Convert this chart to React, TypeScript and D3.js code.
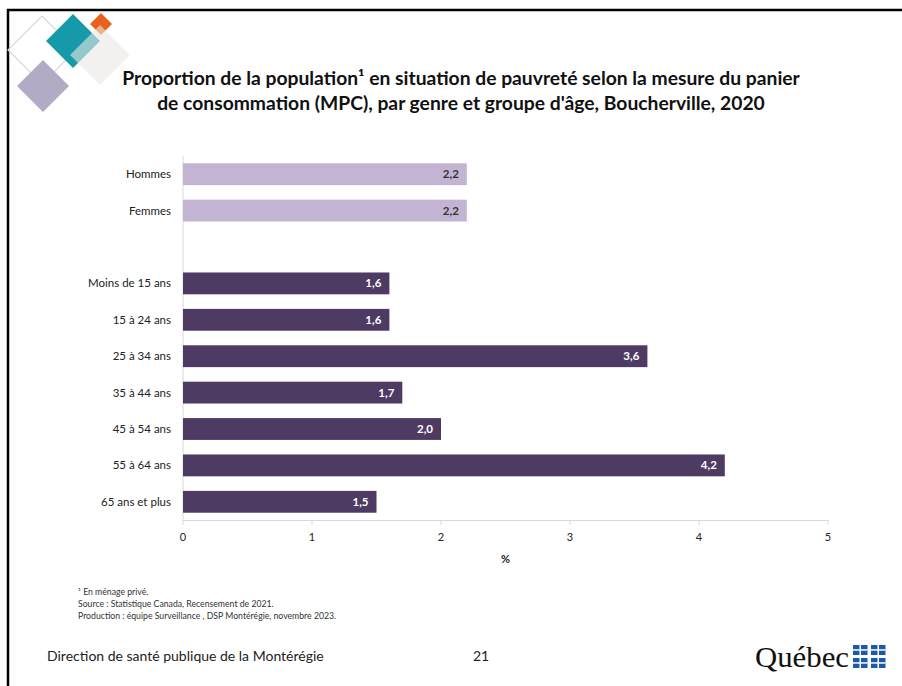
import React from "react";
import * as d3 from "d3";

const categories = ["Hommes", "Femmes", "", "Moins de 15 ans", "15 à 24 ans", "25 à 34 ans", "35 à 44 ans", "45 à 54 ans", "55 à 64 ans", "65 ans et plus"];
const values: (number | null)[] = [2.2, 2.2, null, 1.6, 1.6, 3.6, 1.7, 2.0, 4.2, 1.5];
const groups = ["genre", "genre", "", "age", "age", "age", "age", "age", "age", "age"];
const xTicks = [0, 1, 2, 3, 4, 5];
const titleLines = [
  "Proportion de la population¹ en situation de pauvreté selon la mesure du panier",
  "de consommation (MPC), par genre et groupe d'âge, Boucherville, 2020",
];
const notes = [
  "¹ En ménage privé.",
  "Source : Statistique Canada, Recensement de 2021.",
  "Production : équipe Surveillance , DSP Montérégie, novembre 2023.",
];

const FONT = "Lato, 'Open Sans', sans-serif";

export default function App() {
  const W = 902, H = 686;
  const x = d3.scaleLinear().domain([0, 5]).range([183, 828]);
  const y = d3.scaleBand<string>().domain(categories.map((c, i) => i + "")).range([156, 520]).paddingInner(0.4).paddingOuter(0.2);
  const fmt = (v: number) => d3.format(".1f")(v).replace(".", ",");
  const diamond = (cx: number, cy: number, r: number) => `M${cx},${cy - r}L${cx + r},${cy}L${cx},${cy + r}L${cx - r},${cy}Z`;
  const flag = (fx: number, fy: number) => (
    <g>
      <rect x={fx} y={fy} width={14.5} height={10} fill="#1c5aa6" />
      <rect x={fx + 6.5} y={fy} width={1.5} height={10} fill="#fff" />
      <rect x={fx} y={fy + 4.2} width={14.5} height={1.5} fill="#fff" />
    </g>
  );
  return (
    <svg width={W} height={H} style={{ position: "absolute", left: 0, top: 0, background: "#fff" }}>
      <rect x={0} y={0} width={W} height={H} fill="#fff" />
      <line x1={7} y1={10} x2={902} y2={10} stroke="#000" strokeWidth={2.5} />
      <line x1={8} y1={9} x2={8} y2={686} stroke="#000" strokeWidth={2.5} />
      {/* decorative diamonds */}
      <path d={diamond(42, 50, 34)} fill="none" stroke="#d6dbd6" strokeWidth={1.2} />
      <path d={diamond(43, 86, 26)} fill="#b3aac6" />
      <path d={diamond(73, 41, 27)} fill="#1699a8" />
      <path d={diamond(101, 24, 11)} fill="#e8621c" />
      <path d={diamond(100, 55, 30)} fill="#ebe8e6" opacity={0.6} />
      {titleLines.map((t, i) => (
        <text key={i} x={461} y={85 + i * 25} textAnchor="middle" fontFamily={FONT} fontWeight={700} fontSize={19.3} fill="#111">{t}</text>
      ))}
      {/* axis */}
      <line x1={x(0)} y1={156} x2={x(0)} y2={520} stroke="#d9d9d9" strokeWidth={1} />
      <line x1={x(0)} y1={520.5} x2={x(5)} y2={520.5} stroke="#d9d9d9" strokeWidth={1} />
      {xTicks.map((t) => (
        <g key={t}>
          <line x1={x(t)} y1={520} x2={x(t)} y2={525} stroke="#d9d9d9" />
          <text x={x(t)} y={541} textAnchor="middle" fontFamily={FONT} fontSize={11} fill="#222">{t}</text>
        </g>
      ))}
      <text x={x(2.5)} y={563} textAnchor="middle" fontFamily={FONT} fontWeight={700} fontSize={11} fill="#222">%</text>
      {categories.map((c, i) => {
        const v = values[i];
        const yy = y(i + "")!;
        const bh = y.bandwidth();
        const light = groups[i] === "genre";
        return (
          <g key={i}>
            {c && (
              <text x={171} y={yy + bh / 2 + 4} textAnchor="end" fontFamily={FONT} fontSize={11.5} fill="#222">{c}</text>
            )}
            {v != null && (
              <>
                <rect x={x(0)} y={yy} width={x(v) - x(0)} height={bh} fill={light ? "#c3b4d3" : "#4e3b63"} />
                <text x={x(v) - 8} y={yy + bh / 2 + 4} textAnchor="end" fontFamily={FONT} fontWeight={700} fontSize={11.5} fill={light ? "#333" : "#fff"}>{fmt(v)}</text>
              </>
            )}
          </g>
        );
      })}
      {notes.map((n, i) => (
        <text key={i} x={78} y={595 + i * 12} fontFamily={FONT} fontSize={8.7} fill="#333">{n}</text>
      ))}
      <text x={47} y={661} fontFamily={FONT} fontSize={14} fill="#222">Direction de santé publique de la Montérégie</text>
      <text x={473} y={661} fontFamily={FONT} fontSize={14} fill="#222">21</text>
      <text x={755} y={667} fontFamily="'Liberation Serif', 'DejaVu Serif', serif" fontSize={30} fill="#111" textLength={94} lengthAdjust="spacingAndGlyphs">Québec</text>
      {flag(853, 645)}
      {flag(871, 645)}
      {flag(853, 658)}
      {flag(871, 658)}
    </svg>
  );
}
